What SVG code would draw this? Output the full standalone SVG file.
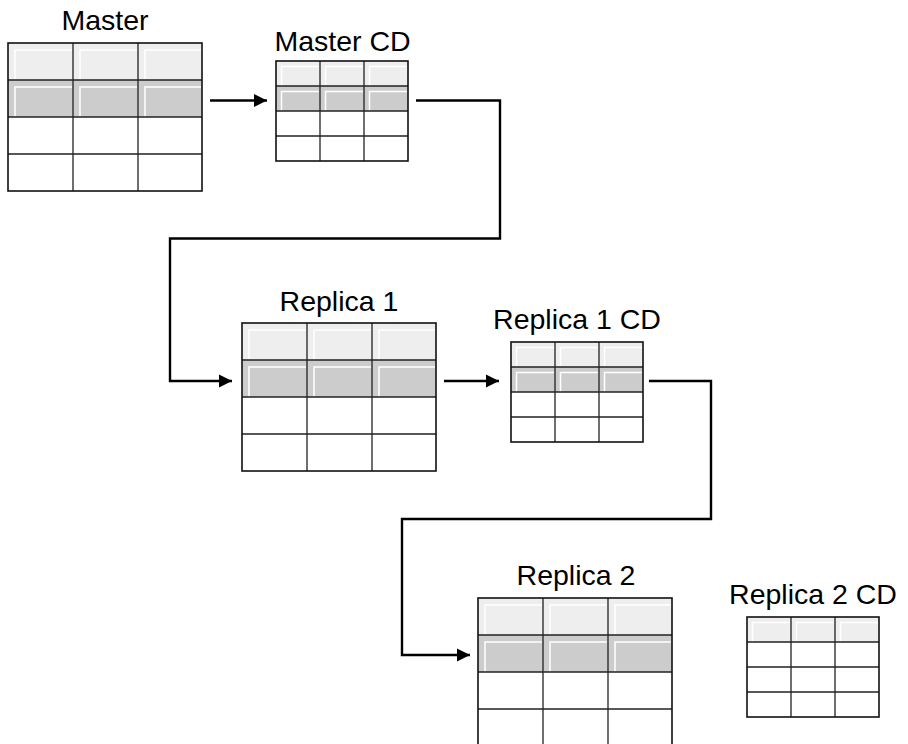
<svg xmlns="http://www.w3.org/2000/svg" xmlns:xlink="http://www.w3.org/1999/xlink" width="908" height="744" viewBox="0 0 908 744">
<style>
.lbl{font-family:"Liberation Sans",Arial,sans-serif;font-size:28.5px;fill:#000;text-anchor:middle}
.h1{fill:#eeeeee}
.h2{fill:#cccccc}
.bev{fill:none;stroke:#ffffff;stroke-width:1.5}
.grid{fill:none;stroke:#222;stroke-width:1.3}
.outer{fill:none;stroke:#111;stroke-width:1.6}
.conn{fill:none;stroke:#000;stroke-width:2.4}
</style>
<defs>
<marker id="arr" markerUnits="userSpaceOnUse" markerWidth="14" markerHeight="14" refX="13" refY="7" orient="auto">
<path d="M0,0.5 L13,7 L0,13.5 Z" fill="#000"/>
</marker>
<symbol id="bigTable" overflow="visible">
<rect x="0" y="0" width="194" height="148" fill="#fff"/>
<rect class="h1" x="0" y="0" width="194" height="37"/>
<rect class="h2" x="0" y="37" width="194" height="37"/>
<path class="bev" d="M7,37 V7 H64 M72,37 V7 H129 M137,37 V7 H193 M7,74 V44 H64 M72,74 V44 H129 M137,74 V44 H193"/>
<path class="grid" d="M0,37 H194 M0,74 H194 M0,111 H194 M65,0 V148 M130,0 V148"/>
<rect class="outer" x="0" y="0" width="194" height="148"/>
</symbol>
<symbol id="smallTable" overflow="visible">
<rect x="0" y="0" width="132" height="100" fill="#fff"/>
<rect class="h1" x="0" y="0" width="132" height="25"/>
<rect class="h2" x="0" y="25" width="132" height="25"/>
<path class="bev" d="M5.5,25 V5.5 H43 M49.5,25 V5.5 H87 M93.5,25 V5.5 H131 M5.5,50 V30.5 H43 M49.5,50 V30.5 H87 M93.5,50 V30.5 H131"/>
<path class="grid" d="M0,25 H132 M0,50 H132 M0,75 H132 M44,0 V100 M88,0 V100"/>
<rect class="outer" x="0" y="0" width="132" height="100"/>
</symbol>
<symbol id="smallTable1" overflow="visible">
<rect x="0" y="0" width="132" height="100" fill="#fff"/>
<rect class="h1" x="0" y="0" width="132" height="25"/>
<path class="bev" d="M5.5,25 V5.5 H43 M49.5,25 V5.5 H87 M93.5,25 V5.5 H131"/>
<path class="grid" d="M0,25 H132 M0,50 H132 M0,75 H132 M44,0 V100 M88,0 V100"/>
<rect class="outer" x="0" y="0" width="132" height="100"/>
</symbol>
</defs>
<rect x="0" y="0" width="908" height="744" fill="#fff"/>
<g id="connectors">
<path class="conn" d="M210,100.5 H267" marker-end="url(#arr)"/>
<path class="conn" d="M416,100.5 H500 V238.5 H170 V381 H232" marker-end="url(#arr)"/>
<path class="conn" d="M444,381 H499" marker-end="url(#arr)"/>
<path class="conn" d="M649,381 H711 V519 H402 V655 H470" marker-end="url(#arr)"/>
</g>
<g id="master">
<text class="lbl" x="105" y="30">Master</text>
<use xlink:href="#bigTable" x="8" y="43"/>
</g>
<g id="master-cd">
<text class="lbl" x="342.5" y="51">Master CD</text>
<use xlink:href="#smallTable" x="276" y="61"/>
</g>
<g id="replica1">
<text class="lbl" x="339" y="311">Replica 1</text>
<use xlink:href="#bigTable" x="242" y="323"/>
</g>
<g id="replica1-cd">
<text class="lbl" x="577" y="329">Replica 1 CD</text>
<use xlink:href="#smallTable" x="511" y="342"/>
</g>
<g id="replica2">
<text class="lbl" x="576" y="585">Replica 2</text>
<use xlink:href="#bigTable" x="478" y="598"/>
</g>
<g id="replica2-cd">
<text class="lbl" x="813" y="604">Replica 2 CD</text>
<use xlink:href="#smallTable1" x="747" y="617"/>
</g>
</svg>
